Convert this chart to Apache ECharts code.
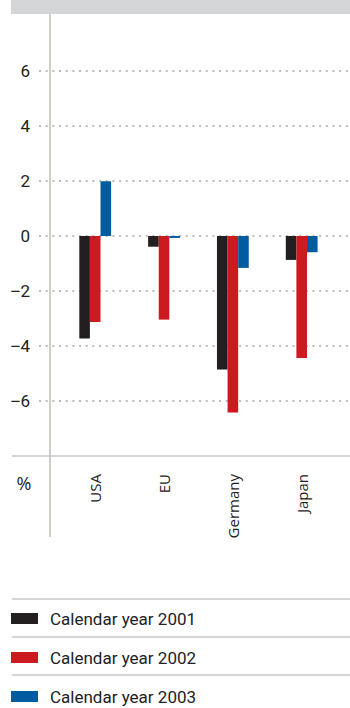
<!DOCTYPE html>
<html><head><meta charset="utf-8">
<script src="https://cdn.jsdelivr.net/npm/echarts@6/dist/echarts.min.js"></script>
<style>html,body{margin:0;padding:0;background:#fff}#c{width:350px;height:708px}</style>
</head><body><div id="c"></div>
<script>
const categories = ['USA', 'EU', 'Germany', 'Japan'];
const seriesNames = ['Calendar year 2001', 'Calendar year 2002', 'Calendar year 2003'];
const values2001 = [-3.73, -0.39, -4.85, -0.87];
const values2002 = [-3.13, -3.04, -6.42, -4.44];
const values2003 = [1.99, -0.07, -1.16, -0.59];
const yTickLabels = [-6, -4, -2, 0, 2, 4, 6];
const unitLabel = '%';
const yMin = -8, yMax = 8, yStep = 2;

const colors = ['#231f20', '#cc1a21', '#005b9f'];
const seriesValues = [values2001, values2002, values2003];
const lineColor = '#c6c6c2';

const chart = echarts.init(document.getElementById('c'), null, {renderer: 'svg'});
chart.setOption({
  animation: false,
  backgroundColor: '#fff',
  grid: [
    {left: 39, right: 0, top: 16, bottom: 252},
    {left: 60.8, right: 13.9, top: 16, bottom: 252}
  ],
  xAxis: [
    {gridIndex: 0, type: 'value', show: false, min: 0, max: 1},
    {gridIndex: 1, type: 'category', data: categories,
     axisLine: {show: false}, axisTick: {show: false},
     axisLabel: {rotate: 90, margin: 18, fontSize: 15, fontFamily: 'Open Sans', color: '#222'}}
  ],
  yAxis: [
    {gridIndex: 0, type: 'value', min: yMin, max: yMax, interval: yStep,
     axisLine: {show: false}, axisTick: {show: false},
     axisLabel: {margin: 9, fontSize: 17, fontFamily: 'Roboto', color: '#222',
       formatter: v => yTickLabels.includes(v) ? (v < 0 ? '{m|\u2212}' + Math.abs(v) : String(v)) : '',
       rich: {m: {fontSize: 17, fontFamily: 'Liberation Sans', color: '#222'}}},
     splitLine: {show: true, showMinLine: false, showMaxLine: false,
       lineStyle: {color: '#bcbcbc', width: 2, type: [2, 4.67]}}},
    {gridIndex: 1, type: 'value', min: yMin, max: yMax, interval: yStep, show: false,
     splitLine: {show: false}}
  ],
  legend: {
    orient: 'vertical', left: 11, top: 610, padding: 0,
    itemWidth: 27, itemHeight: 11, itemGap: 22, icon: 'rect',
    data: seriesNames,
    textStyle: {fontSize: 17, fontFamily: 'Roboto', color: '#222', lineHeight: 16, padding: [0, 0, 0, 7]}
  },
  series: seriesNames.map((n, i) => ({
    name: n, type: 'bar', xAxisIndex: 1, yAxisIndex: 1,
    data: seriesValues[i], barWidth: 10.6, barGap: '0%',
    itemStyle: {color: colors[i]}
  })),
  graphic: [
    {type: 'rect', shape: {x: 11, y: 0, width: 339, height: 14}, style: {fill: '#d4d5d7'}, silent: true},
    {type: 'line', shape: {x1: 50, y1: 14, x2: 50, y2: 537}, style: {stroke: lineColor, lineWidth: 1.7}, silent: true, z: 10},
    {type: 'line', shape: {x1: 12, y1: 456, x2: 350, y2: 456}, style: {stroke: lineColor, lineWidth: 1.7}, silent: true, z: 10},
    {type: 'text', x: 24, y: 482.5, style: {text: unitLabel, fontSize: 18, fontFamily: 'Open Sans', fill: '#222', align: 'center', verticalAlign: 'middle'}, silent: true},
    {type: 'line', shape: {x1: 12, y1: 599, x2: 350, y2: 599}, style: {stroke: '#c8c8c8', lineWidth: 1.5}, silent: true},
    {type: 'line', shape: {x1: 12, y1: 637, x2: 350, y2: 637}, style: {stroke: '#c8c8c8', lineWidth: 1.5}, silent: true},
    {type: 'line', shape: {x1: 12, y1: 675, x2: 350, y2: 675}, style: {stroke: '#c8c8c8', lineWidth: 1.5}, silent: true}
  ]
});
</script></body></html>
